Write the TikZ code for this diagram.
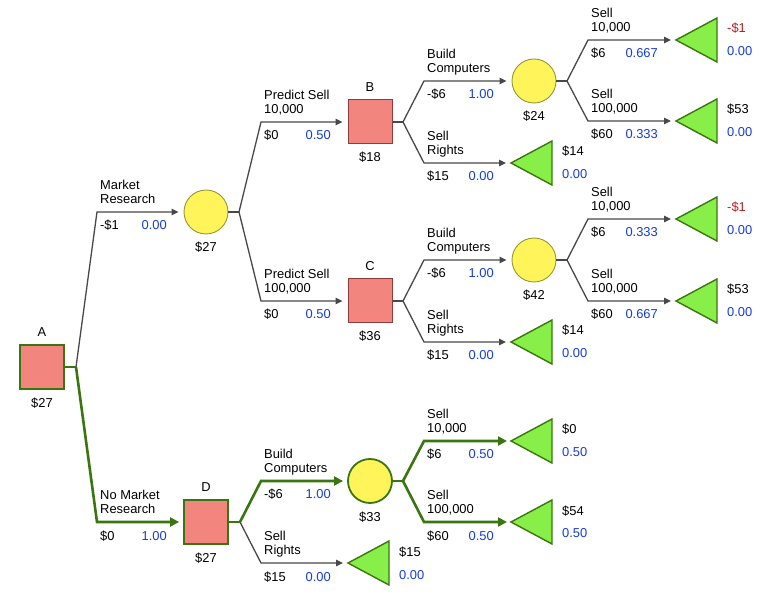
\documentclass[tikz,border=0pt]{standalone}
\usepackage{fontspec}
\setmainfont{Liberation Sans}
\usetikzlibrary{arrows.meta}

\definecolor{decfill}{RGB}{242,134,126}
\definecolor{decedge}{RGB}{140,60,58}
\definecolor{chfill}{RGB}{255,245,90}
\definecolor{chedge}{RGB}{150,150,50}
\definecolor{leaffill}{RGB}{136,238,72}
\definecolor{best}{RGB}{58,118,16}
\definecolor{plain}{RGB}{72,72,72}
\definecolor{probblue}{RGB}{20,60,220}
\definecolor{negred}{RGB}{185,30,30}

\tikzset{
  txt/.style={inner sep=0pt, font=\fontsize{12.9}{15}\selectfont, text=black},
  prob/.style={txt, text=probblue},
  decision/.style={draw=decedge, line width=1pt, fill=decfill, rectangle,
    minimum size=44pt, inner sep=0pt},
  bestdecision/.style={decision, draw=best, line width=1.8pt},
  chance/.style={draw=chedge, line width=0.9pt, fill=chfill, circle,
    minimum size=44pt, inner sep=0pt},
  bestchance/.style={chance, draw=best, line width=1.8pt},
  leafshape/.style={draw=best, line width=1.4pt, fill=leaffill, line join=miter},
  gline/.style={draw=plain, line width=1.3pt},
  bline/.style={draw=best, line width=2.6pt},
  garrow/.style={gline, -{Triangle[length=7pt,width=6.5pt]}, shorten >=5pt},
  barrow/.style={bline, -{Triangle[length=9pt,width=9pt]}, shorten >=4pt},
}

% labels of a branch, placed relative to its bend point
\newcommand\brtext[5]{%
  \node[txt, anchor=base west] (#1-a) at ([shift={(3,-22.5)}]#1) {#2};
  \node[txt, anchor=base west] (#1-b) at ([shift={(3,-8.5)}]#1) {#3};
  \node[txt, anchor=base west] (#1-c) at ([shift={(3,18)}]#1) {#4};
  \node[prob, anchor=base east] (#1-d) at ([shift={(70,18)}]#1) {#5};}

% name and value of a decision or chance node
\newcommand\nodetext[3]{%
  \node[txt, anchor=base] (#1-n) at ([yshift=8pt]#1.north) {#2};
  \node[txt, anchor=base] (#1-v) at ([yshift=-17.5pt]#1.south) {#3};}

% end point: a left-pointing triangle with its value and probability
\newcommand\leaf[4]{%
  \coordinate (#1) at #2;
  \draw[leafshape] (#1) -- ++(41,-22) -- ++(0,44) -- cycle;
  \node[txt, anchor=base west] (#1-v) at ([shift={(51,-7)}]#1) {#3};
  \node[prob, anchor=base west] (#1-p) at ([shift={(51,16)}]#1) {#4};}

\begin{document}
\begin{tikzpicture}[x=1pt, y=-1pt]
\useasboundingbox (0,0) rectangle (777,601);

% ---- decision and chance nodes
\node[bestdecision] (A) at (42,367) {};
\node[chance] (E1) at (206,212) {};
\node[decision] (B) at (370,122) {};
\node[chance] (E2) at (534,81) {};
\node[decision] (C) at (370,301) {};
\node[chance] (E3) at (534,260) {};
\node[bestdecision] (D) at (206,522) {};
\node[bestchance] (E4) at (370,481) {};

\nodetext{A}{A}{\$27}
\node[txt, anchor=base] (E1-v) at ([yshift=-17.5pt]E1.south) {\$27};
\nodetext{B}{B}{\$18}
\node[txt, anchor=base] (E2-v) at ([yshift=-17.5pt]E2.south) {\$24};
\nodetext{C}{C}{\$36}
\node[txt, anchor=base] (E3-v) at ([yshift=-17.5pt]E3.south) {\$42};
\nodetext{D}{D}{\$27}
\node[txt, anchor=base] (E4-v) at ([yshift=-17.5pt]E4.south) {\$33};

% ---- fork and bend points
\coordinate (fA) at (76,367);
\coordinate (bMR) at (97,212);
\coordinate (bNM) at (97,522);
\coordinate (fE1) at (239,212);
\coordinate (bP1) at (261,122);
\coordinate (bP2) at (261,301);
\coordinate (fB) at (403,122);
\coordinate (bBC) at (424,81);
\coordinate (bBR) at (424,163);
\coordinate (fE2) at (567,81);
\coordinate (bB1) at (588,40);
\coordinate (bB2) at (588,121);
\coordinate (fC) at (403,301);
\coordinate (bCC) at (424,260);
\coordinate (bCR) at (424,342);
\coordinate (fE3) at (567,260);
\coordinate (bC1) at (588,219);
\coordinate (bC2) at (588,301);
\coordinate (fD) at (240,522);
\coordinate (bDC) at (261,481);
\coordinate (bDR) at (261,563);
\coordinate (fE4) at (403,481);
\coordinate (bD1) at (424,441);
\coordinate (bD2) at (424,522);

% ---- end points
\leaf{T1}{(676,40)}{\textcolor{negred}{-\$1}}{0.00}
\leaf{T2}{(676,121)}{\$53}{0.00}
\leaf{TB}{(511,163)}{\$14}{0.00}
\leaf{T3}{(676,219)}{\textcolor{negred}{-\$1}}{0.00}
\leaf{T4}{(676,301)}{\$53}{0.00}
\leaf{TC}{(511,342)}{\$14}{0.00}
\leaf{T5}{(511,441)}{\$0}{0.50}
\leaf{T6}{(511,522)}{\$54}{0.50}
\leaf{TD}{(348,563)}{\$15}{0.00}

% ---- connectors, plain branches
\draw[garrow] (fA) -- (bMR) -- (E1.west);
\draw[gline] (E1.east) -- (fE1);
\draw[garrow] (fE1) -- (bP1) -- (B.west);
\draw[garrow] (fE1) -- (bP2) -- (C.west);
\draw[gline] (B.east) -- (fB);
\draw[garrow] (fB) -- (bBC) -- (E2.west);
\draw[garrow] (fB) -- (bBR) -- (TB);
\draw[gline] (E2.east) -- (fE2);
\draw[garrow] (fE2) -- (bB1) -- (T1);
\draw[garrow] (fE2) -- (bB2) -- (T2);
\draw[gline] (C.east) -- (fC);
\draw[garrow] (fC) -- (bCC) -- (E3.west);
\draw[garrow] (fC) -- (bCR) -- (TC);
\draw[gline] (E3.east) -- (fE3);
\draw[garrow] (fE3) -- (bC1) -- (T3);
\draw[garrow] (fE3) -- (bC2) -- (T4);
\draw[garrow] (fD) -- (bDR) -- (TD);

% ---- connectors, best strategy
\draw[bline] (A.east) -- (fA);
\draw[barrow] (fA) -- (bNM) -- (D.west);
\draw[bline] (D.east) -- (fD);
\draw[barrow] (fD) -- (bDC) -- (E4.west);
\draw[bline] (E4.east) -- (fE4);
\draw[barrow] (fE4) -- (bD1) -- (T5);
\draw[barrow] (fE4) -- (bD2) -- (T6);

% ---- branch labels
\brtext{bMR}{Market}{Research}{-\$1}{0.00}
\brtext{bNM}{No Market}{Research}{\$0}{1.00}
\brtext{bP1}{Predict Sell}{10,000}{\$0}{0.50}
\brtext{bP2}{Predict Sell}{100,000}{\$0}{0.50}
\brtext{bBC}{Build}{Computers}{-\$6}{1.00}
\brtext{bBR}{Sell}{Rights}{\$15}{0.00}
\brtext{bB1}{Sell}{10,000}{\$6}{0.667}
\brtext{bB2}{Sell}{100,000}{\$60}{0.333}
\brtext{bCC}{Build}{Computers}{-\$6}{1.00}
\brtext{bCR}{Sell}{Rights}{\$15}{0.00}
\brtext{bC1}{Sell}{10,000}{\$6}{0.333}
\brtext{bC2}{Sell}{100,000}{\$60}{0.667}
\brtext{bDC}{Build}{Computers}{-\$6}{1.00}
\brtext{bDR}{Sell}{Rights}{\$15}{0.00}
\brtext{bD1}{Sell}{10,000}{\$6}{0.50}
\brtext{bD2}{Sell}{100,000}{\$60}{0.50}
\end{tikzpicture}
\end{document}
